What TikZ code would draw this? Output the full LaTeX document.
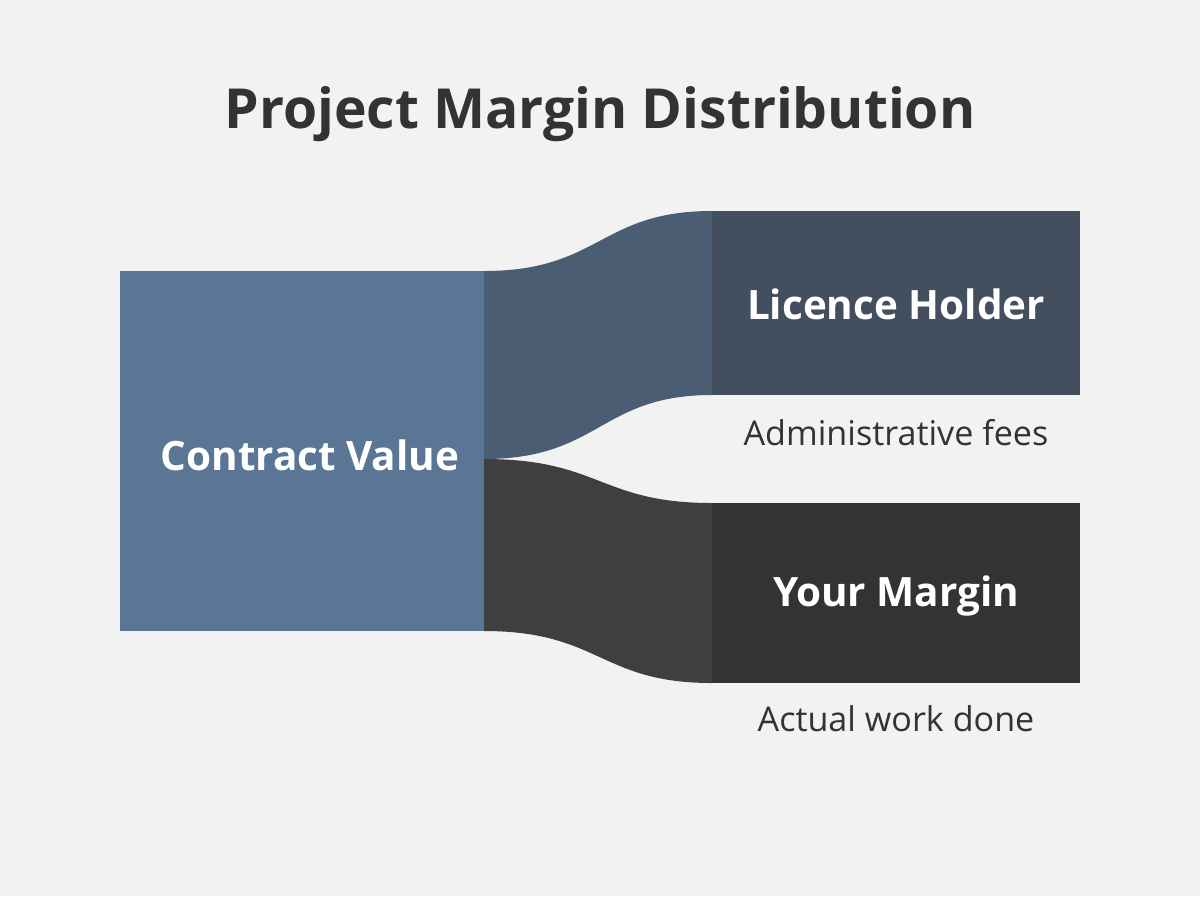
\documentclass[tikz,border=0pt]{standalone}
\usepackage{fontspec}
\setmainfont{Open Sans}
\usepackage{xcolor}
\usepackage{tikz}
\usetikzlibrary{calc}

\definecolor{bgc}{HTML}{F2F2F2}
\definecolor{valc}{HTML}{5A7694}
\definecolor{upflow}{HTML}{4A5D72}
\definecolor{holderc}{HTML}{434F5E}
\definecolor{downflow}{HTML}{3F3F3F}
\definecolor{marginc}{HTML}{333333}
\definecolor{txtc}{HTML}{333333}

\tikzset{
  boxlabel/.style={text=white,font=\fontsize{11.5}{14}\selectfont\bfseries},
  note/.style={text=txtc,font=\fontsize{9.7}{12}\selectfont},
}

\begin{document}
\begin{tikzpicture}[x=0.01cm,y=-0.01cm]
\fill[bgc] (0,0) rectangle (1200,896);
\useasboundingbox (0,0) rectangle (1200,896);

\node[text=txtc,font=\fontsize{15.7}{19}\selectfont\bfseries] (title) at (600,114) {Project Margin Distribution};

% flows
\fill[upflow] (484,271) .. controls (600,271) and (600,211) .. (712,211)
  -- (712,395) .. controls (600,395) and (600,459) .. (484,459) -- cycle;
\fill[downflow] (484,459) .. controls (600,459) and (600,503) .. (712,503)
  -- (712,683) .. controls (600,683) and (600,631) .. (484,631) -- cycle;

% blocks
\fill[valc] (120,271) rectangle (484,631);
\fill[holderc] (712,211) rectangle (1080,395);
\fill[marginc] (712,503) rectangle (1080,683);

\node[boxlabel] (value) at (310,455) {Contract Value};
\node[boxlabel] (holder) at (896,304) {Licence Holder};
\node[boxlabel] (margin) at (896,596) {Your Margin};

\node[note] (fees) at (896,433) {Administrative fees};
\node[note] (work) at (896,719) {Actual work done};
\end{tikzpicture}
\end{document}
